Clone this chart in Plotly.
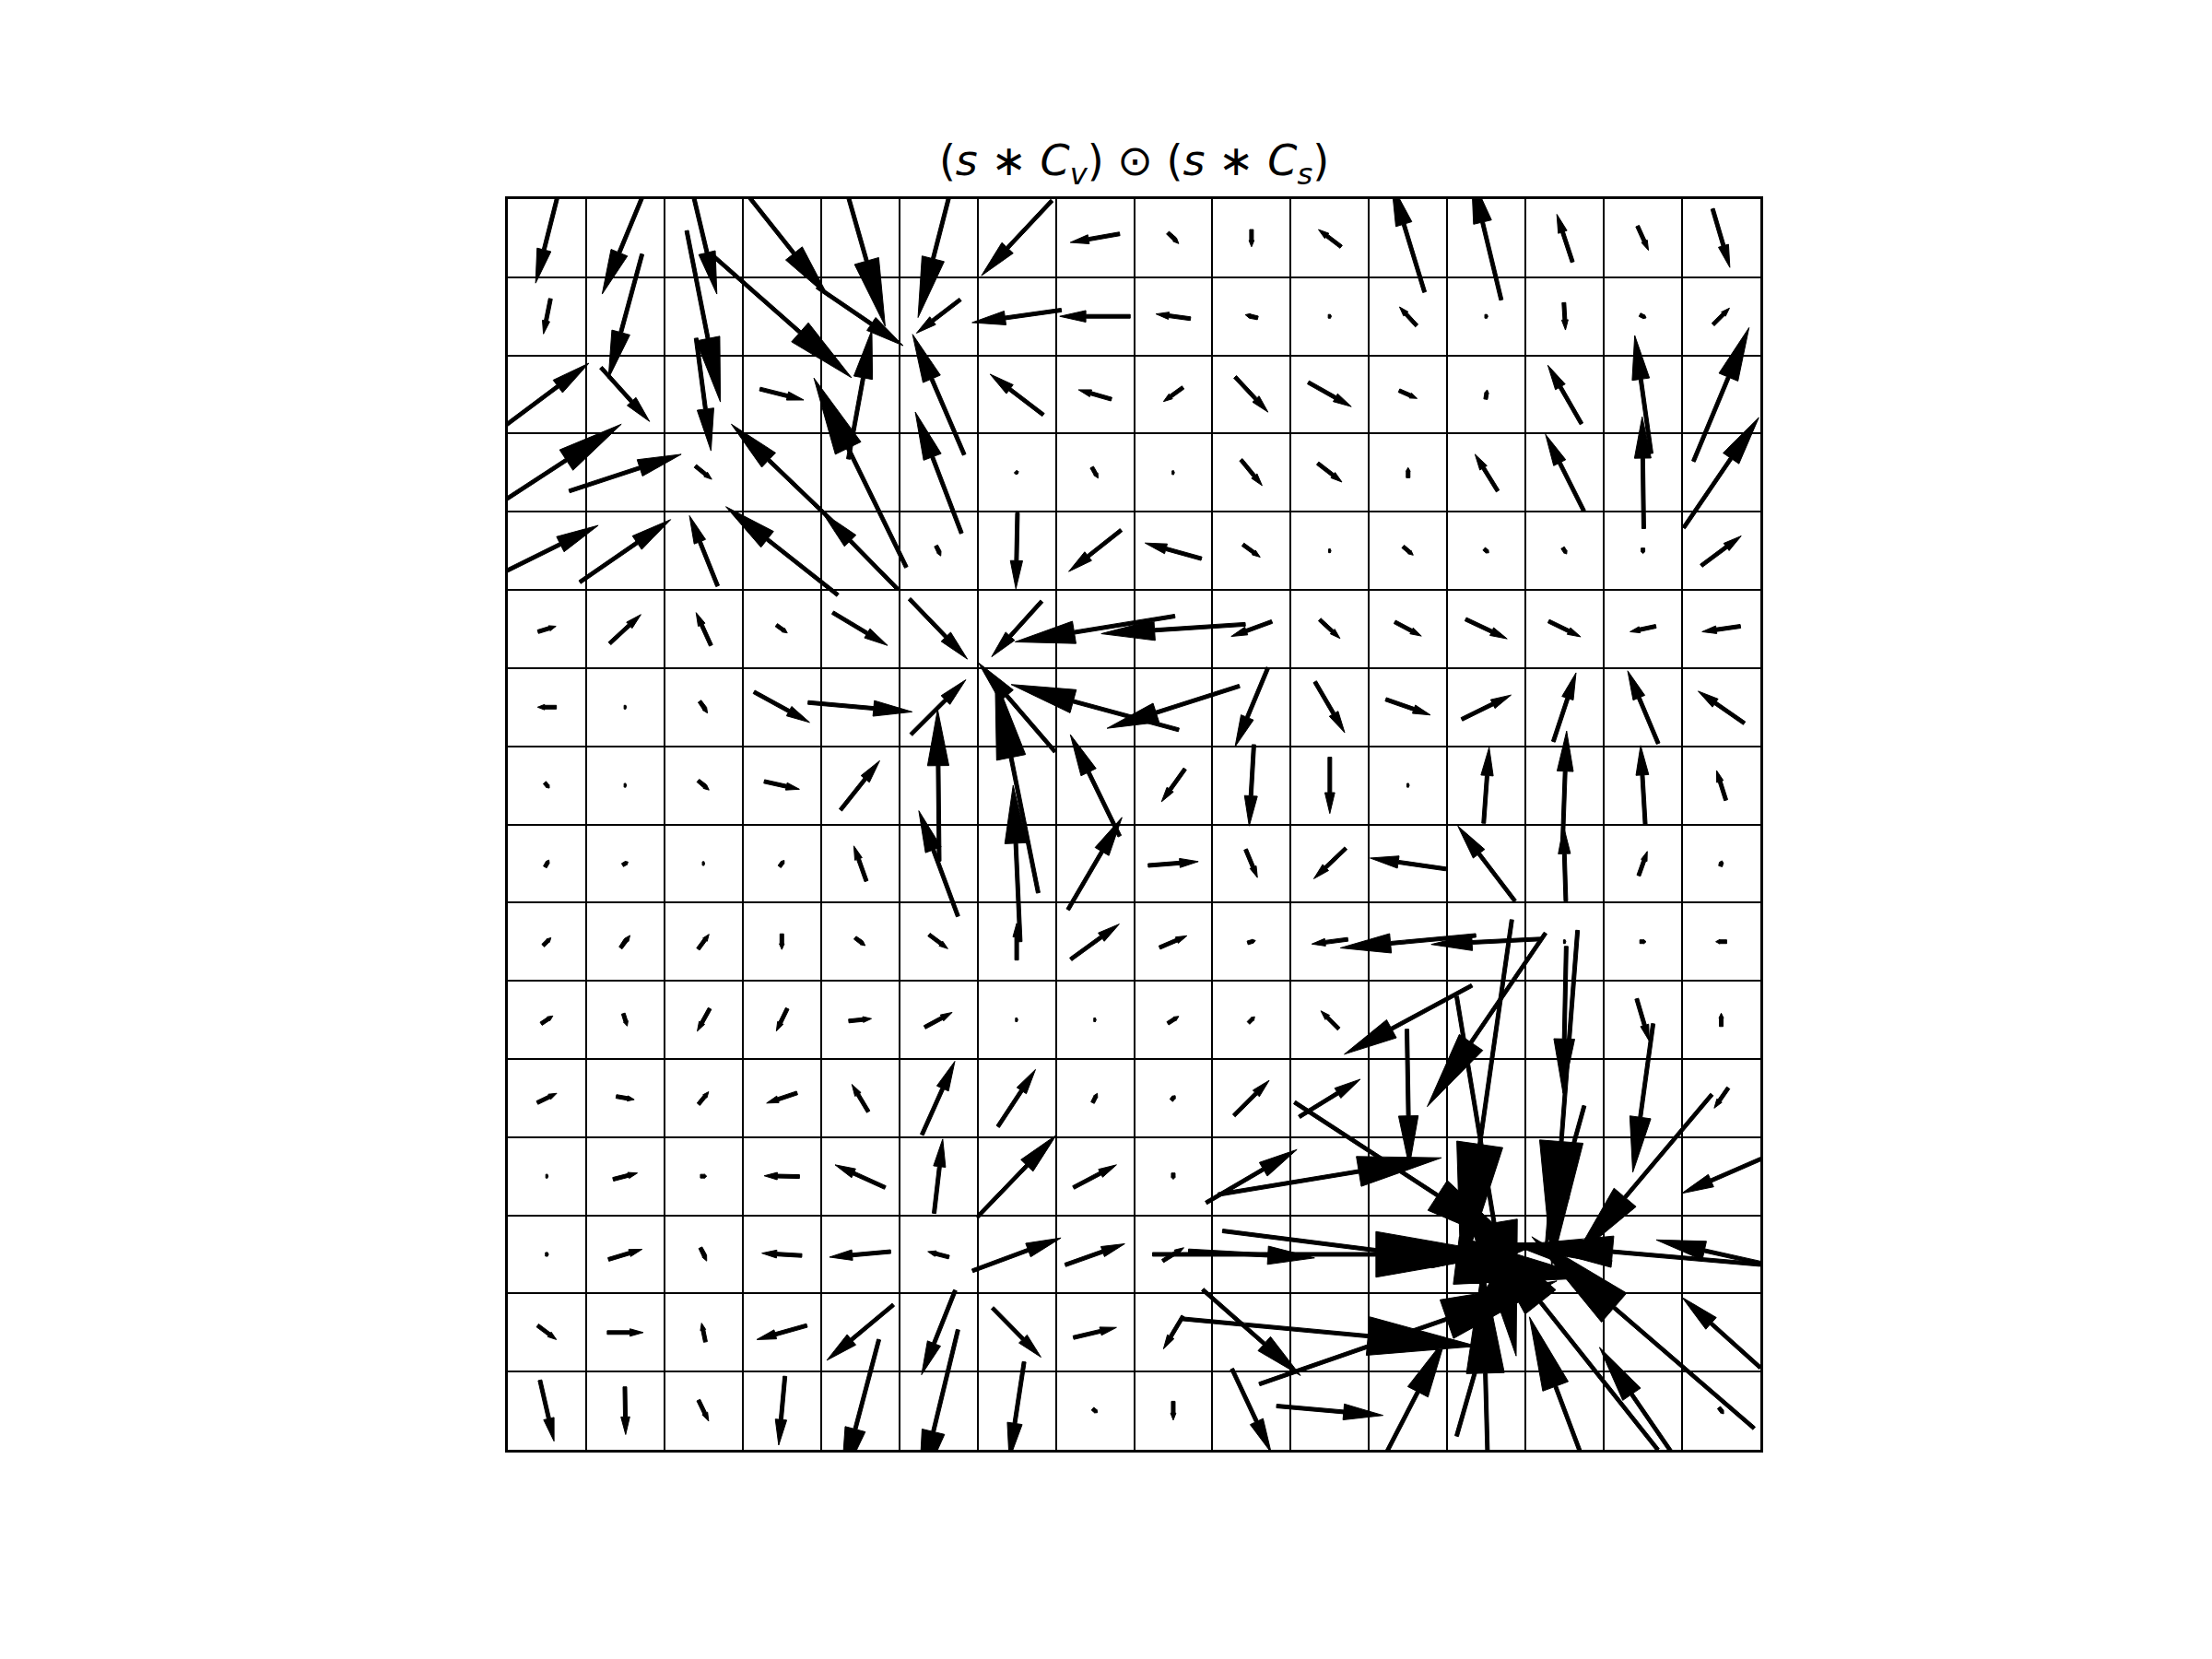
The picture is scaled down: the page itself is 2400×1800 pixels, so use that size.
import math
import plotly.graph_objects as go

# Vector components per grid cell, rows listed top to bottom, columns left to right
# (U: rightward, V: upward), in units of one grid cell.
U_rows = [
    [-0.29, -0.59, 0.34, 1.19, 0.64, -0.52, -0.90, -0.63, 0.14, 0.00, -0.29, -0.42, -0.38, -0.20, 0.14, 0.22],
    [-0.09, -0.43, 0.43, 1.78, 1.10, -0.56, -1.14, -0.90, -0.44, -0.16, 0.04, -0.22, 0.04, 0.02, 0.08, 0.21],
    [1.07, 0.62, 0.19, 0.56, 0.30, -0.66, -0.68, -0.42, -0.25, 0.42, 0.55, 0.23, 0.02, -0.43, -0.21, 0.71],
    [1.90, 1.43, 0.21, -1.29, -1.18, -0.59, 0.03, 0.08, 0.03, 0.27, 0.31, 0.00, -0.29, -0.49, -0.02, 0.96],
    [1.31, 1.16, -0.36, -1.43, -0.97, 0.06, -0.02, -0.67, -0.72, 0.22, 0.03, 0.13, 0.06, 0.05, 0.00, 0.51],
    [0.23, 0.40, -0.19, 0.14, 0.70, 0.74, -0.64, -2.04, -1.84, -0.52, 0.26, 0.34, 0.53, 0.41, -0.33, -0.49],
    [-0.24, 0.03, 0.10, 0.71, 1.33, 0.70, -0.98, -2.14, -1.69, -0.42, 0.38, 0.57, 0.63, 0.29, -0.39, -0.59],
    [0.06, 0.03, 0.14, 0.45, 0.50, -0.02, -0.55, -0.63, -0.30, -0.06, 0.00, 0.03, 0.07, 0.05, -0.06, -0.12],
    [0.05, 0.07, 0.03, 0.06, -0.16, -0.50, -0.09, 0.69, 0.64, 0.15, -0.41, -0.97, -0.73, -0.03, 0.11, 0.02],
    [0.10, 0.12, 0.14, 0.00, 0.13, 0.24, 0.00, 0.62, 0.35, 0.10, -0.46, -1.73, -1.41, 0.03, 0.08, -0.14],
    [0.15, 0.05, -0.16, -0.14, 0.29, 0.35, 0.03, 0.03, 0.14, 0.08, -0.23, -1.63, -1.51, -0.04, 0.16, 0.00],
    [0.25, 0.23, 0.13, -0.39, -0.21, 0.42, 0.48, 0.06, 0.05, 0.45, 0.78, 0.03, -0.65, -0.33, -0.26, -0.18],
    [0.03, 0.31, 0.08, -0.45, -0.64, 0.11, 1.01, 0.55, 0.00, 1.16, 2.85, 2.90, 0.76, -0.50, -1.76, -1.01],
    [0.04, 0.43, 0.08, -0.51, -0.78, -0.27, 1.13, 0.76, 0.27, 1.61, 4.53, 4.74, 1.40, -1.20, -3.00, -1.66],
    [0.24, 0.46, -0.05, -0.64, -0.85, -0.43, 0.62, 0.55, -0.25, 1.25, 3.76, 3.80, 0.76, -2.38, -2.84, -1.00],
    [0.18, 0.01, 0.13, -0.08, -0.48, -0.50, -0.19, 0.06, 0.00, 0.50, 1.36, 0.96, -0.10, -0.90, -1.11, 0.06],
]
V_rows = [
    [-1.15, -1.43, -1.43, -1.50, -2.25, -2.03, -0.96, -0.11, -0.14, -0.22, 0.22, 1.38, 1.58, 0.61, -0.31, -0.75],
    [-0.45, -1.59, -2.19, -1.57, -0.75, -0.43, -0.16, 0.00, 0.06, 0.04, 0.00, 0.24, 0.00, -0.35, -0.04, 0.21],
    [0.80, -0.69, -1.44, -0.14, 1.65, 1.54, 0.52, 0.12, -0.18, -0.45, -0.31, -0.10, 0.12, 0.75, 1.51, 1.71],
    [1.24, 0.47, -0.17, 1.24, 2.42, 1.55, -0.03, -0.14, 0.00, -0.33, -0.24, 0.13, 0.47, 0.98, 1.43, 1.41],
    [0.65, 0.80, 0.90, 1.13, 0.99, -0.13, -0.97, -0.53, 0.20, -0.16, 0.00, -0.11, -0.05, -0.08, -0.07, 0.38],
    [0.07, 0.37, 0.42, -0.10, -0.42, -0.77, -0.71, -0.33, -0.12, -0.19, -0.24, -0.18, -0.25, -0.20, -0.07, -0.07],
    [0.00, 0.00, -0.15, -0.39, -0.12, 0.70, 1.14, 0.58, -0.54, -1.01, -0.65, -0.20, 0.31, 0.88, 0.93, 0.41],
    [-0.07, 0.00, -0.12, -0.10, 0.63, 1.94, 2.75, 1.30, -0.42, -1.04, -0.72, 0.00, 0.97, 1.39, 1.02, 0.38],
    [0.09, 0.04, 0.00, 0.08, 0.45, 1.35, 2.00, 1.18, 0.05, -0.36, -0.39, 0.14, 0.96, 0.96, 0.31, 0.07],
    [0.10, 0.16, 0.19, -0.20, -0.10, -0.18, 0.47, 0.45, 0.15, 0.03, -0.06, -0.16, -0.07, 0.00, 0.00, 0.00],
    [0.10, -0.16, -0.29, -0.29, 0.03, 0.19, 0.00, 0.00, 0.09, 0.08, 0.23, -0.88, -2.22, -1.88, -0.54, 0.17],
    [0.12, -0.04, 0.16, -0.13, 0.35, 0.94, 0.73, 0.12, 0.06, 0.45, 0.48, -1.76, -4.56, -4.29, -1.90, -0.26],
    [0.00, 0.08, 0.00, 0.01, 0.29, 0.95, 1.05, 0.29, -0.08, 0.68, 0.47, -1.89, -4.60, -1.80, -2.09, -0.44],
    [0.00, 0.13, -0.17, 0.03, -0.07, 0.07, 0.42, 0.27, 0.17, -0.09, 0.00, -0.60, 0.30, 0.20, 0.26, 0.37],
    [-0.18, 0.00, 0.24, -0.18, -0.71, -1.08, -0.63, 0.13, -0.42, -1.10, -0.35, 1.32, 2.65, 3.00, 2.45, 0.90],
    [-0.78, -0.61, -0.27, -0.88, -1.82, -2.07, -1.25, -0.05, -0.24, -1.07, -0.12, 1.86, 3.70, 2.40, 1.62, -0.08],
]
N_ROWS = len(U_rows)
N_COLS = len(U_rows[0])
TITLE = "(<i>s</i> ∗ <i>C<sub>v</sub></i>) ⊙ (<i>s</i> ∗ <i>C<sub>s</sub></i>)"

# arrow style (in grid-cell units)
SHAFT_W = 0.047
HEAD_LEN_FRAC = 0.37
HEAD_W_FRAC = 0.12
HEAD_W_ADD = 0.04

xs, ys = [], []
for r in range(N_ROWS):
    for c in range(N_COLS):
        u = U_rows[r][c]
        v = V_rows[r][c]
        L = math.hypot(u, v)
        if L < 1e-9:
            continue
        cx = c + 0.5
        cy = N_ROWS - r - 0.5
        dx, dy = u / L, v / L
        nx, ny = -dy, dx
        tx, ty = cx - u / 2, cy - v / 2  # pivot at middle
        hl = HEAD_LEN_FRAC * L
        hw = max(HEAD_W_FRAC * L + HEAD_W_ADD, SHAFT_W * 1.15)
        sw = SHAFT_W
        bx, by = tx + dx * (L - hl), ty + dy * (L - hl)
        pts = [
            (tx + nx * sw / 2, ty + ny * sw / 2),
            (bx + nx * sw / 2, by + ny * sw / 2),
            (bx + nx * hw / 2, by + ny * hw / 2),
            (tx + u, ty + v),
            (bx - nx * hw / 2, by - ny * hw / 2),
            (bx - nx * sw / 2, by - ny * sw / 2),
            (tx - nx * sw / 2, ty - ny * sw / 2),
            (tx + nx * sw / 2, ty + ny * sw / 2),
        ]
        for px, py in pts:
            xs.append(px)
            ys.append(py)
        xs.append(None)
        ys.append(None)

fig = go.Figure()
fig.add_trace(go.Scatter(
    x=xs, y=ys, mode="lines", fill="toself", fillcolor="black",
    line=dict(color="black", width=1), hoverinfo="skip", showlegend=False,
))

axis_common = dict(
    tickmode="array", showticklabels=False, ticks="",
    showgrid=True, gridcolor="black", gridwidth=2,
    zeroline=False, showline=True, linecolor="black", linewidth=2.5, mirror=True,
)
fig.update_layout(
    width=2400, height=1800,
    margin=dict(l=551, r=490, t=216, b=227),
    paper_bgcolor="white", plot_bgcolor="white",
    xaxis=dict(range=[0, N_COLS], tickvals=list(range(N_COLS + 1)), **axis_common),
    yaxis=dict(range=[0, N_ROWS], tickvals=list(range(N_ROWS + 1)), **axis_common),
    title=dict(text=TITLE, x=0.5, xref="paper", xanchor="center",
               y=1 - 174 / 1800, yref="container", yanchor="middle",
               font=dict(family="DejaVu Sans", size=46, color="black")),
)
fig.write_html("out.html")
